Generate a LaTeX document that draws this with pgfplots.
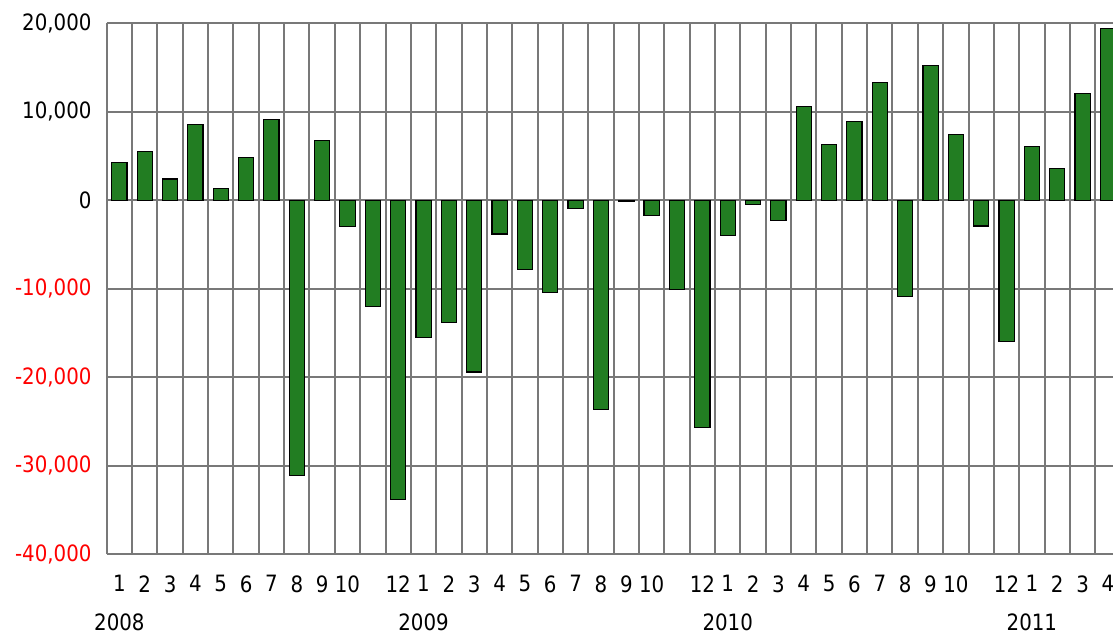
\documentclass[border=0pt]{standalone}
\usepackage{fontspec}
\setmainfont{DejaVu Sans}[FakeStretch=0.88]
\usepackage{pgfplots}
\pgfplotsset{compat=1.18}
\usetikzlibrary{calc}
\definecolor{barg}{RGB}{34,125,34}
\definecolor{gridg}{RGB}{120,120,120}
\begin{document}
\begin{tikzpicture}
\begin{axis}[
  name=ax,
  scale only axis,
  width=1006.3pt, height=531pt,
  xmin=-0.5, xmax=39.2,
  ymin=-40000, ymax=20000,
  scaled y ticks=false, scaled x ticks=false,
  axis x line*=bottom, axis y line*=left,
  axis line style={gridg, line width=2.2pt, -},
  ytick={-40000,-30000,-20000,-10000,0,10000,20000},
  yticklabels={{\color{red}-40,000},{\color{red}-30,000},{\color{red}-20,000},{\color{red}-10,000},0,{10,000},{20,000}},
  ymajorgrids,
  major grid style={draw=gridg, line width=2pt},
  xtick={0,1,...,39},
  xticklabels={{1\\[11.5pt]2008},2,3,4,5,6,7,8,9,10,{},12,
               {1\\[11.5pt]2009},2,3,4,5,6,7,8,9,10,{},12,
               {1\\[11.5pt]2010},2,3,4,5,6,7,8,9,10,{},12,
               {1\\[11.5pt]2011},2,3,4},
  minor xtick={0.5,1.5,...,38.5},
  xminorgrids,
  minor grid style={draw=gridg, line width=2pt},
  major tick length=0pt, minor tick length=0pt,
  tick label style={font=\fontsize{22.5}{27}\selectfont, inner sep=0pt},
  xticklabel style={anchor=north, align=center, yshift=-21pt},
  yticklabel style={anchor=east, xshift=-15pt},
  ybar, bar width=0.6,
]
\addplot[fill=barg, draw=black, line width=1.2pt] coordinates {
(0,4300) (1,5500) (2,2400) (3,8600) (4,1300) (5,4800) (6,9100) (7,-31100) (8,6800) (9,-3000) (10,-12000) (11,-33800)
(12,-15500) (13,-13800) (14,-19400) (15,-3800) (16,-7800) (17,-10400) (18,-900) (19,-23600) (20,-150) (21,-1700) (22,-10100) (23,-25700)
(24,-4000) (25,-500) (26,-2300) (27,10600) (28,6300) (29,8900) (30,13300) (31,-10900) (32,15200) (33,7400) (34,-2900) (35,-16000)
(36,6100) (37,3600) (38,12100) (39,19400)
};
\end{axis}
\pgfresetboundingbox
\path ($(ax.south west)+(-106.7pt,-79.7pt)$) rectangle ($(ax.north east)+(0pt,23.3pt)$);
\end{tikzpicture}
\end{document}
